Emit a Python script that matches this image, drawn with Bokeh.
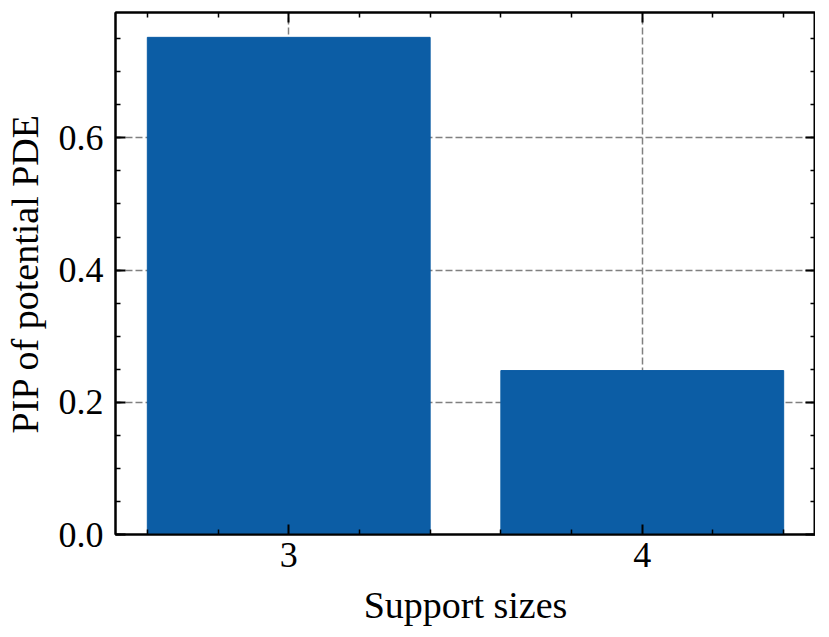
from bokeh.plotting import figure
from bokeh.models import FixedTicker, LinearAxis, Range1d, CustomJSTickFormatter
from bokeh.embed import file_html
from bokeh.resources import INLINE

sizes = [3, 4]
pip = [0.752, 0.248]
x_ticks = [3, 4]
y_ticks = [0.0, 0.2, 0.4, 0.6]
x_minor = [2.6, 2.8, 3.2, 3.4, 3.6, 3.8, 4.2, 4.4]
y_minor = [round(0.05 * i, 2) for i in range(0, 16)]

FONT = "Liberation Serif"
FS = "36px"
FS_LABEL = "38px"
BAR = "#0C5DA5"

p = figure(frame_width=700, frame_height=522, output_backend="svg", toolbar_location=None,
           x_range=Range1d(2.51, 4.49), y_range=Range1d(0, 0.7896),
           min_border_left=113, min_border_right=0, min_border_top=12, min_border_bottom=87,
           x_axis_label="Support sizes", y_axis_label="PIP of potential PDE")
p.outline_line_color = "black"
p.outline_line_width = 2

p.vbar(x=sizes, top=pip, width=0.8, bottom=0, fill_color=BAR, line_color=BAR, line_width=1)

xt = FixedTicker(ticks=x_ticks, minor_ticks=x_minor)
yt = FixedTicker(ticks=y_ticks, minor_ticks=y_minor)

def style(ax):
    ax.axis_line_color = "black"
    ax.axis_line_width = 2
    ax.major_tick_in = 10
    ax.major_tick_out = 0
    ax.minor_tick_in = 5
    ax.minor_tick_out = 0
    ax.major_tick_line_color = "black"
    ax.minor_tick_line_color = "black"
    ax.major_tick_line_width = 2
    ax.minor_tick_line_width = 1.5
    ax.major_label_text_font = FONT
    ax.major_label_text_font_size = FS
    ax.axis_label_text_font = FONT
    ax.axis_label_text_font_size = FS_LABEL
    ax.axis_label_text_font_style = "normal"
    ax.axis_label_text_color = "black"
    ax.major_label_text_color = "black"

xa = p.xaxis[0]
ya = p.yaxis[0]
xa.ticker = xt
ya.ticker = yt
ya.formatter = CustomJSTickFormatter(code="return tick.toFixed(1);")
style(xa)
style(ya)
xa.major_label_standoff = 8
xa.axis_label_standoff = 14
ya.major_label_standoff = 12
ya.axis_label_standoff = 10

blank = CustomJSTickFormatter(code="return '';")
top = LinearAxis(ticker=xt, formatter=blank)
right = LinearAxis(ticker=yt, formatter=blank)
style(top)
style(right)
for ax in (top, right):
    ax.major_label_standoff = 0
    ax.major_label_text_font_size = "1px"
p.add_layout(top, "above")
p.add_layout(right, "right")

p.xgrid.ticker = xt
p.ygrid.ticker = yt
for g in (p.xgrid, p.ygrid):
    g.grid_line_color = "#808080"
    g.grid_line_dash = "7 3"
    g.grid_line_width = 1.5

open("out.html", "w").write(file_html(p, INLINE))
